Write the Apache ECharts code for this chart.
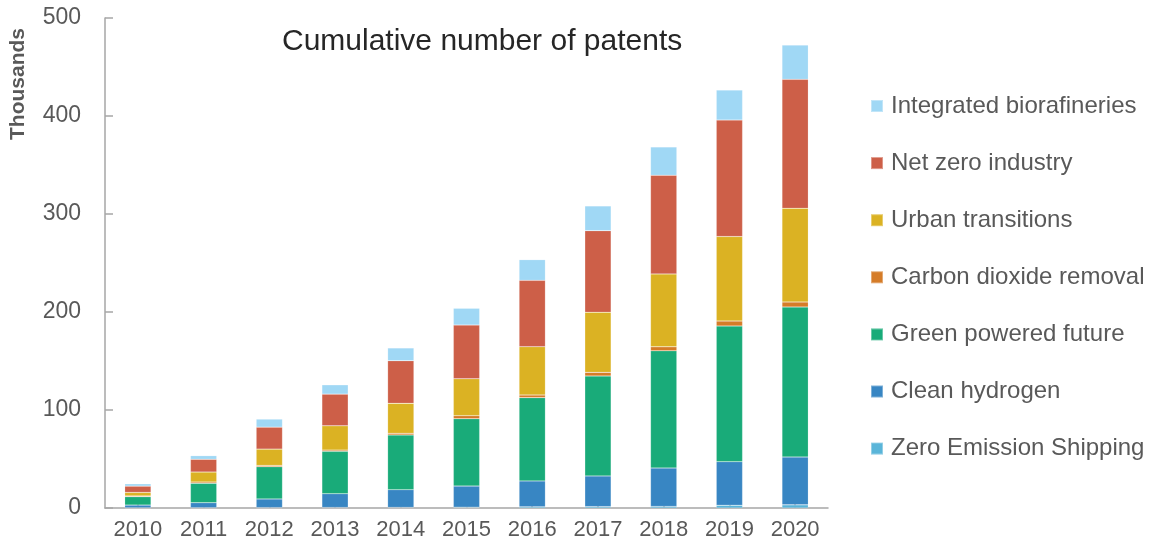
<!DOCTYPE html>
<html>
<head>
<meta charset="utf-8">
<title>Cumulative number of patents</title>
<script src="https://cdn.jsdelivr.net/npm/echarts@6/dist/echarts.min.js"></script>
<style>
  html, body { margin: 0; padding: 0; background: #ffffff; }
  #chart { width: 1171px; height: 548px; }
</style>
</head>
<body>
<div id="chart"></div>
<script>
// Cumulative patent counts (thousands) by mission area, 2010-2020
const years = ['2010', '2011', '2012', '2013', '2014', '2015', '2016', '2017', '2018', '2019', '2020'];

const zeroEmissionShipping = [0.2, 0.3, 0.4, 0.5, 0.6, 0.8, 1.2, 1.4, 1.6, 2.8, 3.2];
const cleanHydrogen        = [2.8, 5.1, 8.8, 14.1, 18.1, 21.6, 26.4, 31.3, 39.2, 44.5, 48.8];
const greenPoweredFuture   = [8.5, 19.8, 32.9, 43.2, 55.8, 68.7, 85.0, 102.0, 119.6, 138.4, 153.1];
const carbonDioxideRemoval = [0.8, 1.3, 1.3, 1.3, 1.7, 3.1, 2.7, 3.7, 4.1, 5.1, 5.1];
const urbanTransitions     = [3.6, 10.2, 16.7, 24.8, 30.6, 37.7, 49.3, 61.3, 74.4, 86.2, 95.6];
const netZeroIndustry      = [6.4, 13.0, 22.4, 32.3, 43.5, 54.8, 67.7, 83.3, 100.6, 118.9, 131.6];
const integratedBiorefs    = [2.4, 3.7, 8.2, 9.5, 13.0, 17.1, 21.1, 25.2, 28.9, 30.6, 35.0];

const yTicks = [0, 100, 200, 300, 400, 500];

// stacking order, bottom to top
const stackSeries = [
  { name: 'Zero Emission Shipping',   data: zeroEmissionShipping, color: '#5ab5d9' },
  { name: 'Clean hydrogen',           data: cleanHydrogen,        color: '#3886c3' },
  { name: 'Green powered future',     data: greenPoweredFuture,   color: '#19ab79' },
  { name: 'Carbon dioxide removal',   data: carbonDioxideRemoval, color: '#d57c28' },
  { name: 'Urban transitions',        data: urbanTransitions,     color: '#dbb223' },
  { name: 'Net zero industry',        data: netZeroIndustry,      color: '#cd5f48' },
  { name: 'Integrated biorafineries', data: integratedBiorefs,    color: '#a0d8f5' }
];

const textColor = '#595959';
const axisColor = '#a6a6a6';
const fontFamily = 'Liberation Sans, Arial, sans-serif';

const chart = echarts.init(document.getElementById('chart'), null, { renderer: 'canvas' });

chart.setOption({
  animation: false,
  backgroundColor: '#ffffff',
  title: {
    text: 'Cumulative number of patents',
    left: 282,
    top: 27,
    padding: 0,
    textStyle: { fontFamily, fontSize: 30, fontWeight: 'normal', color: '#262626' }
  },
  legend: {
    orient: 'vertical',
    left: 865,
    top: 89,
    itemWidth: 12,
    itemHeight: 12,
    itemGap: 33.1,
    icon: 'rect',
    data: stackSeries.map(s => s.name).reverse(),
    textStyle: { fontFamily, fontSize: 24, color: textColor, padding: [0, 0, 0, 3] }
  },
  grid: { left: 105, right: 343, top: 18, bottom: 40, containLabel: false },
  xAxis: {
    type: 'category',
    data: years,
    axisLine: { lineStyle: { color: axisColor, width: 1.5 } },
    axisTick: { show: true, inside: true, alignWithLabel: true, length: 5, lineStyle: { color: axisColor, width: 1.5 } },
    axisLabel: { fontFamily, fontSize: 22, color: textColor, margin: 11 }
  },
  yAxis: {
    type: 'value',
    min: yTicks[0],
    max: yTicks[yTicks.length - 1],
    interval: yTicks[1] - yTicks[0],
    axisLine: { show: true, lineStyle: { color: axisColor, width: 1.5 } },
    axisTick: { show: true, inside: true, length: 8, lineStyle: { color: axisColor, width: 1.5 } },
    splitLine: { show: false },
    axisLabel: { fontFamily, fontSize: 23, color: textColor, margin: 24 }
  },
  graphic: [{
    type: 'text',
    x: 18,
    y: 84,
    rotation: Math.PI / 2,
    style: {
      text: 'Thousands',
      fontFamily,
      fontSize: 21,
      fontWeight: 'bold',
      fill: textColor,
      align: 'center',
      verticalAlign: 'middle'
    }
  }],
  series: stackSeries.map(s => ({
    name: s.name,
    type: 'bar',
    stack: 'total',
    data: s.data,
    barWidth: '40%',
    itemStyle: { color: s.color, borderColor: 'rgba(255,255,255,0.35)', borderWidth: 0.5 }
  }))
});
</script>
</body>
</html>
